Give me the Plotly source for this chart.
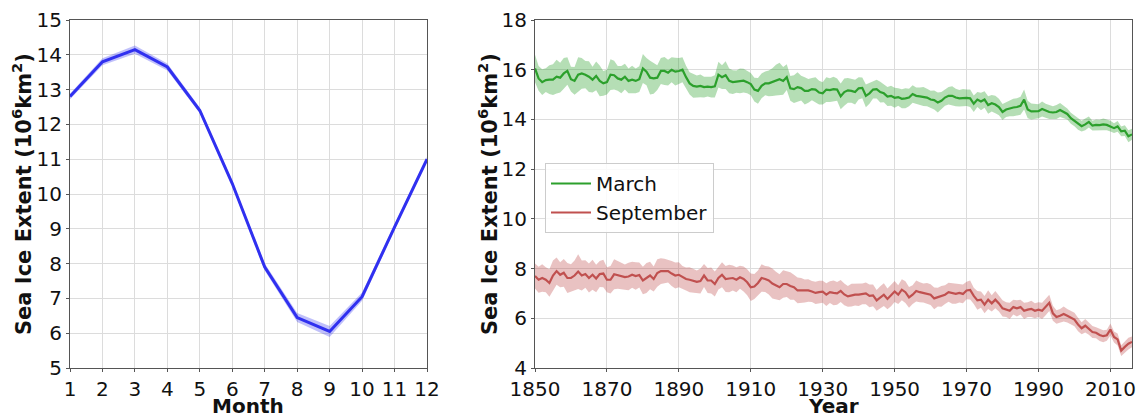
import numpy as np
import plotly.graph_objects as go

# ---- Monthly climatology ----
months = list(range(1, 13))
monthly_extent = [12.8, 13.8, 14.15, 13.65, 12.4, 10.3, 7.9, 6.45, 6.05, 7.05, 9.05, 11.0]
monthly_spread = [0.08, 0.1, 0.12, 0.1, 0.08, 0.07, 0.1, 0.13, 0.16, 0.12, 0.08, 0.06]

# ---- Yearly March / September extent, 1850-2016 ----
years = list(range(1850, 2017))
march_extent = [
    16.05, 15.65, 15.5, 15.58, 15.6, 15.6, 15.72, 15.68, 15.85, 15.95,
    15.62, 15.55, 15.8, 15.85, 15.8, 15.72, 15.6, 15.75, 15.55, 15.45,
    15.5, 15.8, 15.78, 15.65, 15.6, 15.72, 15.55, 15.6, 15.55, 15.62,
    16.05, 15.92, 15.68, 15.65, 15.68, 15.95, 15.95, 15.88, 16.0, 15.92,
    15.95, 16.0, 15.7, 15.45, 15.35, 15.32, 15.35, 15.3, 15.32, 15.3,
    15.33, 15.8, 15.7, 15.78, 15.55, 15.5, 15.52, 15.55, 15.56, 15.5,
    15.42, 15.2, 15.15, 15.35, 15.45, 15.45, 15.5, 15.58, 15.62, 15.55,
    15.7, 15.25, 15.22, 15.3, 15.26, 15.15, 15.15, 15.22, 15.2, 15.08,
    15.05, 15.2, 15.18, 15.22, 15.2, 14.93, 15.1, 15.17, 15.15, 15.1,
    15.25, 15.27, 14.95, 15.05, 15.2, 15.22, 15.1, 15.05, 14.92, 14.95,
    14.87, 14.9, 14.83, 14.85, 14.88, 15.02, 14.95, 14.93, 14.92, 14.88,
    14.8, 14.78, 14.68, 14.75, 14.88, 14.95, 14.95, 14.88, 14.85, 14.87,
    14.87, 14.85, 14.63, 14.8, 14.72, 14.8, 14.58, 14.65, 14.6, 14.5,
    14.3, 14.4, 14.45, 14.48, 14.5, 14.55, 14.8, 14.4, 14.32, 14.33,
    14.33, 14.42, 14.35, 14.3, 14.28, 14.3, 14.38, 14.3, 14.22, 14.05,
    13.95, 13.82, 13.73, 13.8, 13.9, 13.75, 13.78, 13.77, 13.8, 13.78,
    13.73, 13.65, 13.72, 13.52, 13.55, 13.32, 13.4,
]
march_spread = [
    0.55, 0.5, 0.52, 0.48, 0.58, 0.62, 0.68, 0.6, 0.62, 0.55,
    0.5, 0.56, 0.7, 0.62, 0.55, 0.62, 0.52, 0.58, 0.62, 0.5,
    0.5, 0.62, 0.58, 0.5, 0.55, 0.52, 0.5, 0.56, 0.5, 0.52,
    0.58, 0.55, 0.68, 0.62, 0.5, 0.52, 0.56, 0.52, 0.5, 0.56,
    0.52, 0.5, 0.46, 0.45, 0.48, 0.45, 0.46, 0.42, 0.4, 0.42,
    0.45, 0.52, 0.48, 0.56, 0.5, 0.48, 0.45, 0.5, 0.48, 0.45,
    0.45, 0.48, 0.52, 0.5, 0.48, 0.52, 0.56, 0.62, 0.66, 0.56,
    0.52, 0.5, 0.56, 0.6, 0.5, 0.55, 0.48, 0.45, 0.5, 0.48,
    0.45, 0.5, 0.48, 0.5, 0.45, 0.52, 0.55, 0.5, 0.48, 0.5,
    0.45, 0.42, 0.46, 0.42, 0.36, 0.38, 0.42, 0.36, 0.38, 0.4,
    0.4, 0.35, 0.38, 0.4, 0.35, 0.35, 0.33, 0.35, 0.38, 0.35,
    0.35, 0.38, 0.4, 0.35, 0.33, 0.35, 0.38, 0.35, 0.33, 0.35,
    0.33, 0.35, 0.33, 0.3, 0.35, 0.33, 0.35, 0.33, 0.35, 0.33,
    0.32, 0.3, 0.32, 0.35, 0.35, 0.36, 0.4, 0.35, 0.32, 0.3,
    0.28, 0.3, 0.28, 0.28, 0.25, 0.28, 0.28, 0.25, 0.22, 0.22,
    0.22, 0.24, 0.22, 0.24, 0.22, 0.2, 0.22, 0.22, 0.24, 0.22,
    0.22, 0.2, 0.22, 0.2, 0.22, 0.24, 0.22,
]
september_extent = [
    7.7, 7.55, 7.62, 7.55, 7.42, 7.72, 7.9, 7.75, 7.83, 7.62,
    7.62, 7.72, 7.88, 7.72, 7.78, 7.62, 7.75, 7.6, 7.78, 7.8,
    7.55, 7.55, 7.77, 7.74, 7.7, 7.66, 7.68, 7.75, 7.7, 7.74,
    7.52, 7.62, 7.72, 7.58, 7.82, 7.9, 7.9, 7.9, 7.8, 7.72,
    7.75, 7.65, 7.58, 7.55, 7.52, 7.47, 7.5, 7.72, 7.52, 7.52,
    7.38, 7.62, 7.75, 7.58, 7.6, 7.62, 7.55, 7.65, 7.58, 7.45,
    7.25, 7.28, 7.42, 7.62, 7.58, 7.52, 7.4, 7.32, 7.25, 7.38,
    7.38, 7.3, 7.25, 7.12, 7.12, 7.1, 7.12, 7.08, 7.02, 7.05,
    7.07, 6.95, 7.05, 7.02, 7.0, 7.1, 6.96, 6.88, 6.93, 6.95,
    6.95, 6.98, 7.0, 6.9, 6.92, 6.72, 6.85, 6.95, 6.78, 6.92,
    7.08, 6.95, 7.15, 7.05, 6.84, 6.95, 7.1, 7.05, 7.02, 7.0,
    6.95, 6.8, 6.85, 6.88, 6.95, 7.05, 7.0, 6.98, 7.02, 6.98,
    7.12, 7.14, 6.9, 6.72, 6.75, 6.55, 6.75, 6.6, 6.75, 6.6,
    6.4, 6.35, 6.3, 6.45, 6.4, 6.45, 6.3, 6.35, 6.38, 6.3,
    6.35, 6.3, 6.45, 6.62, 6.2, 6.05, 6.1, 6.17, 6.1, 6.03,
    5.95, 5.75, 5.6, 5.7, 5.58, 5.45, 5.42, 5.33, 5.28, 5.32,
    5.55, 5.25, 5.15, 4.7, 4.85, 4.98, 5.05,
]
september_spread = [
    0.5, 0.52, 0.55, 0.5, 0.55, 0.6, 0.55, 0.5, 0.56, 0.6,
    0.55, 0.6, 0.7, 0.6, 0.55, 0.58, 0.6, 0.55, 0.52, 0.55,
    0.5, 0.55, 0.6, 0.55, 0.52, 0.5, 0.55, 0.52, 0.55, 0.5,
    0.55, 0.6, 0.55, 0.5, 0.55, 0.52, 0.5, 0.46, 0.5, 0.52,
    0.5, 0.45, 0.46, 0.5, 0.46, 0.45, 0.5, 0.46, 0.5, 0.52,
    0.5, 0.46, 0.5, 0.52, 0.55, 0.5, 0.5, 0.46, 0.5, 0.52,
    0.55, 0.5, 0.5, 0.55, 0.52, 0.56, 0.6, 0.55, 0.52, 0.55,
    0.52, 0.55, 0.5, 0.52, 0.5, 0.46, 0.45, 0.42, 0.45, 0.46,
    0.44, 0.46, 0.44, 0.5, 0.46, 0.44, 0.44, 0.42, 0.46, 0.44,
    0.46, 0.42, 0.44, 0.46, 0.44, 0.42, 0.44, 0.46, 0.42, 0.44,
    0.42, 0.38, 0.42, 0.44, 0.42, 0.38, 0.42, 0.4, 0.38, 0.42,
    0.42, 0.44, 0.38, 0.42, 0.38, 0.38, 0.42, 0.4, 0.38, 0.38,
    0.35, 0.38, 0.33, 0.38, 0.33, 0.35, 0.38, 0.33, 0.35, 0.33,
    0.33, 0.3, 0.33, 0.3, 0.33, 0.3, 0.33, 0.3, 0.33, 0.3,
    0.3, 0.33, 0.33, 0.33, 0.3, 0.27, 0.27, 0.3, 0.27, 0.27,
    0.27, 0.27, 0.24, 0.27, 0.24, 0.24, 0.22, 0.24, 0.24, 0.22,
    0.24, 0.22, 0.24, 0.22, 0.24, 0.24, 0.22,
]

month_ticks = months
year_ticks = list(range(1850, 2011, 20))
left_yticks = list(range(5, 16))
right_yticks = list(range(4, 19, 2))

FONT = "DejaVu Sans"
BLUE = "#3030f0"
GREEN = "#2ca02c"
RED = "#c0504f"


def band(x, y, s, xaxis, yaxis, fillcolor):
    y = np.asarray(y, dtype=float)
    s = np.asarray(s, dtype=float)
    x = list(x)
    upper = y + s
    lower = y - s
    return go.Scatter(
        x=x + x[::-1],
        y=list(upper) + list(lower[::-1]),
        fill="toself",
        fillcolor=fillcolor,
        line=dict(width=0),
        hoverinfo="skip",
        showlegend=False,
        xaxis=xaxis,
        yaxis=yaxis,
    )


fig = go.Figure()

fig.add_trace(band(months, monthly_extent, monthly_spread, "x", "y", "rgba(48,48,240,0.3)"))
fig.add_trace(go.Scatter(x=months, y=monthly_extent, mode="lines",
                         line=dict(color=BLUE, width=3), showlegend=False,
                         xaxis="x", yaxis="y"))

fig.add_trace(band(years, march_extent, march_spread, "x2", "y2", "rgba(44,160,44,0.35)"))
fig.add_trace(band(years, september_extent, september_spread, "x2", "y2", "rgba(192,80,79,0.35)"))
fig.add_trace(go.Scatter(x=years, y=march_extent, mode="lines", name="March",
                         line=dict(color=GREEN, width=2.2), xaxis="x2", yaxis="y2"))
fig.add_trace(go.Scatter(x=years, y=september_extent, mode="lines", name="September",
                         line=dict(color=RED, width=2.2), xaxis="x2", yaxis="y2"))

W, H = 1144, 419
y_dom = [1 - 368 / H, 1 - 20 / H]

axis_common = dict(
    showgrid=True, gridcolor="#dcdcdc", gridwidth=1,
    showline=True, linecolor="#555555", linewidth=1.2, mirror=True,
    ticks="outside", ticklen=3, tickcolor="#555555",
    tickfont=dict(family=FONT, size=20, color="#111111"),
    zeroline=False, automargin=False,
)

fig.update_layout(
    width=W, height=H,
    margin=dict(l=0, r=0, t=0, b=0, autoexpand=False),
    paper_bgcolor="white", plot_bgcolor="white",
    font=dict(family=FONT, color="#111111"),
    xaxis=dict(domain=[70 / W, 427 / W], range=[1, 12], tickvals=month_ticks,
               anchor="y", **axis_common),
    yaxis=dict(domain=y_dom, range=[5, 15], tickvals=left_yticks,
               anchor="x", **axis_common),
    xaxis2=dict(domain=[535 / W, 1132 / W], range=[1850, 2016], tickvals=year_ticks,
                anchor="y2", **axis_common),
    yaxis2=dict(domain=y_dom, range=[4, 18], tickvals=right_yticks,
                anchor="x2", **axis_common),
    legend=dict(
        x=545 / W, y=1 - 163 / H, xanchor="left", yanchor="top",
        bgcolor="rgba(255,255,255,0.85)", bordercolor="#cccccc", borderwidth=1,
        font=dict(family=FONT, size=20, color="#111111"),
        tracegroupgap=0, itemwidth=40,
    ),
    showlegend=True,
)

ytitle = "<b>Sea Ice Extent (10<sup>6</sup>km<sup>2</sup>)</b>"
title_font = dict(family=FONT, size=21, color="#111111")
xtitle_font = dict(family=FONT, size=20, color="#111111")
fig.add_annotation(text=ytitle, xref="paper", yref="paper", x=22 / W, y=1 - 194 / H,
                   textangle=-90, showarrow=False, font=title_font,
                   xanchor="center", yanchor="middle")
fig.add_annotation(text=ytitle, xref="paper", yref="paper", x=488 / W, y=1 - 194 / H,
                   textangle=-90, showarrow=False, font=title_font,
                   xanchor="center", yanchor="middle")
fig.add_annotation(text="<b>Month</b>", xref="paper", yref="paper", x=248 / W, y=0,
                   showarrow=False, font=xtitle_font, xanchor="center", yanchor="bottom",
                   borderpad=0)
fig.add_annotation(text="<b>Year</b>", xref="paper", yref="paper", x=833 / W, y=0,
                   showarrow=False, font=xtitle_font, xanchor="center", yanchor="bottom",
                   borderpad=0)

fig.write_html("out.html")
